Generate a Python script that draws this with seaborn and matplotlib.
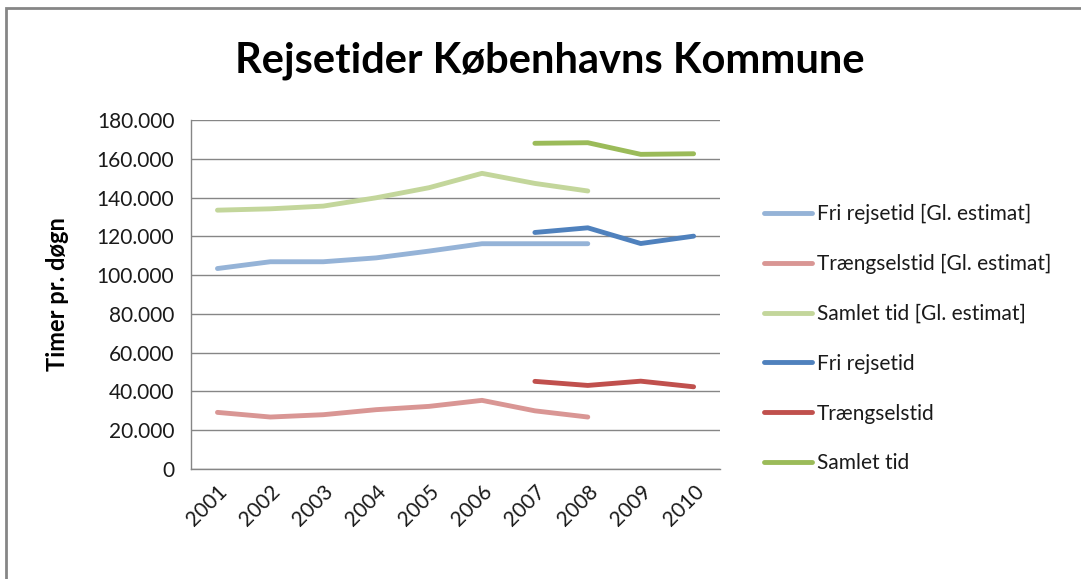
import numpy as np
import pandas as pd
import matplotlib.pyplot as plt
import seaborn as sns
from matplotlib.patches import Rectangle
from matplotlib.ticker import FuncFormatter

# Data (timer pr. døgn)
years_old = [2001, 2002, 2003, 2004, 2005, 2006, 2007, 2008]
years_new = [2007, 2008, 2009, 2010]

fri_old = [103400, 106900, 106900, 108900, 112400, 116200, 116200, 116200]
traeng_old = [29200, 26800, 28000, 30600, 32300, 35400, 30000, 26800]
samlet_old = [133500, 134200, 135600, 139900, 145100, 152500, 147300, 143400]

fri_new = [122000, 124400, 116300, 120100]
traeng_new = [45200, 43100, 45300, 42400]
samlet_new = [168000, 168300, 162300, 162600]

series_names = ['Fri rejsetid [Gl. estimat]', 'Trængselstid [Gl. estimat]',
                'Samlet tid [Gl. estimat]', 'Fri rejsetid', 'Trængselstid', 'Samlet tid']
colors = ['#95B3D7', '#D99694', '#C3D69B', '#4F81BD', '#C0504D', '#9BBB59']

# build long-form table for seaborn
rows = []
for name, yrs, vals in zip(series_names,
                           [years_old, years_old, years_old, years_new, years_new, years_new],
                           [fri_old, traeng_old, samlet_old, fri_new, traeng_new, samlet_new]):
    for yr, v in zip(yrs, vals):
        rows.append({'År': yr, 'Timer': v, 'Serie': name})
df = pd.DataFrame(rows)

sns.set_style('white')
plt.rcParams['font.family'] = ['Lato', 'DejaVu Sans']
plt.rcParams['text.color'] = '#1a1a1a'
plt.rcParams['xtick.labelcolor'] = '#1a1a1a'
plt.rcParams['ytick.labelcolor'] = '#1a1a1a'

fig = plt.figure(figsize=(10.81, 5.79), dpi=100)
ax = fig.add_axes([0.1767, 0.19, 0.4894, 0.6027])

sns.lineplot(data=df, x='År', y='Timer', hue='Serie', hue_order=series_names,
             palette=colors, linewidth=3.5, ax=ax, sort=False)
for line in ax.get_lines():
    line.set_solid_capstyle('round')

ax.set_xlim(2000.5, 2010.5)
ax.set_ylim(0, 180000)
ax.set_yticks(np.arange(0, 180001, 20000))
ax.yaxis.set_major_formatter(FuncFormatter(lambda v, p: f'{int(v):,}'.replace(',', '.')))
ax.set_xticks(range(2001, 2011))
ax.set_xticks(np.arange(2000.5, 2011, 1), minor=True)
ax.tick_params(axis='x', which='major', length=0, labelsize=15, pad=9)
ax.tick_params(axis='x', which='minor', length=6, width=1, color='#868686', direction='out')
ax.tick_params(axis='y', length=6, width=1, color='#868686', direction='out', labelsize=15, pad=6)
for lab in ax.get_xticklabels():
    lab.set_rotation(45)
    lab.set_ha('right')
    lab.set_rotation_mode('anchor')

ax.grid(axis='y', color='#868686', linewidth=1)
ax.set_axisbelow(True)
for side in ['top', 'right']:
    ax.spines[side].set_visible(False)
for side in ['left', 'bottom']:
    ax.spines[side].set_color('#868686')
    ax.spines[side].set_linewidth(1)

ax.set_xlabel('')
ax.set_ylabel('Timer pr. døgn', fontsize=17, fontweight='bold', labelpad=20, color='black')

fig.suptitle('Rejsetider Københavns Kommune', fontsize=30, fontweight='bold',
             x=0.509, y=0.895, va='center', color='black')

handles, labels = ax.get_legend_handles_labels()
ax.legend(handles, labels, loc='center left', bbox_to_anchor=(0.697, 0.415),
          bbox_transform=fig.transFigure, frameon=False, fontsize=15,
          handlelength=2.3, handletextpad=0.25, labelspacing=1.43, borderpad=0)

# outer chart frame
fig.patches.append(Rectangle((0.0055, -0.05), 1.1, 0.986 + 0.05, transform=fig.transFigure,
                             fill=False, edgecolor='#868686', linewidth=2))

fig.savefig('out.png', dpi=100)
